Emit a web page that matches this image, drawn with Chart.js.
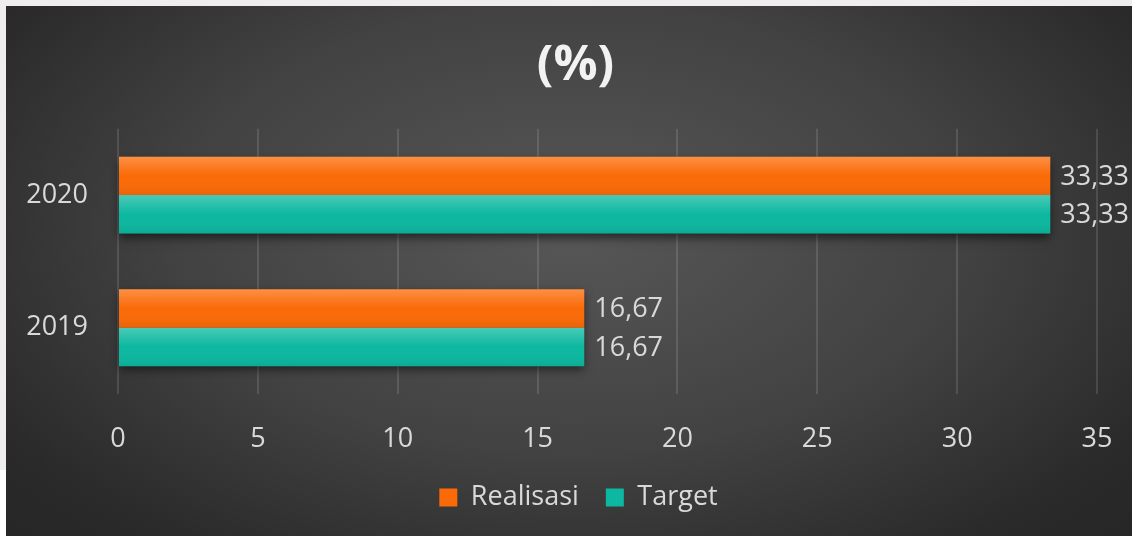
<!DOCTYPE html>
<html>
<head>
<meta charset="utf-8">
<script src="https://cdn.jsdelivr.net/npm/chart.js@4.4.1/dist/chart.umd.min.js"></script>
<style>
  html, body { margin: 0; padding: 0; }
  body {
    width: 1132px; height: 536px; overflow: hidden;
    background: linear-gradient(to bottom, #efeded 0, #efeded 470px, #ffffff 470px);
    position: relative;
  }
  #wrap {
    position: absolute; left: 6px; top: 6px; width: 1126px; height: 530px;
    background: radial-gradient(ellipse 70% 85% at 50% 42%, #575757 0%, #424242 50%, #2a2a2a 85%, #262626 100%);
  }
</style>
</head>
<body>
<div id="wrap"><canvas id="chart"></canvas></div>
<script>
const categories = ['2020', '2019'];
const realisasi = [33.33, 16.67];
const target = [33.33, 16.67];
const xTicks = [0, 5, 10, 15, 20, 25, 30, 35];

const FONT = '"Open Sans", "DejaVu Sans", sans-serif';
const TEXT = '#d9d9d9';

// soft shadow under each bar, drawn before the bars themselves
const barShadow = {
  id: 'barShadow',
  beforeDatasetsDraw(chart) {
    const ctx = chart.ctx;
    ctx.save();
    ctx.shadowColor = 'rgba(0,0,0,0.55)';
    ctx.shadowBlur = 9;
    ctx.shadowOffsetY = 4;
    ctx.fillStyle = '#333';
    chart.data.datasets.forEach((ds, i) => {
      chart.getDatasetMeta(i).data.forEach(bar => {
        const p = bar.getProps(['x', 'y', 'base', 'height'], true);
        ctx.fillRect(p.base, p.y - p.height / 2, p.x - p.base, p.height);
      });
    });
    ctx.restore();
  },
  afterDatasetsDraw(chart) {
    // gloss: lighter top, slightly darker bottom
    const ctx = chart.ctx;
    ctx.save();
    chart.data.datasets.forEach((ds, i) => {
      chart.getDatasetMeta(i).data.forEach(bar => {
        const p = bar.getProps(['x', 'y', 'base', 'height'], true);
        const top = p.y - p.height / 2;
        const g = ctx.createLinearGradient(0, top, 0, top + p.height);
        g.addColorStop(0, 'rgba(255,255,255,0.25)');
        g.addColorStop(0.5, 'rgba(255,255,255,0)');
        g.addColorStop(1, 'rgba(0,0,0,0.07)');
        ctx.fillStyle = g;
        ctx.fillRect(p.base, top, p.x - p.base, p.height);
      });
    });
    ctx.restore();
  }
};

const valueLabels = {
  id: 'valueLabels',
  afterDatasetsDraw(chart) {
    const ctx = chart.ctx;
    ctx.save();
    ctx.font = '27px ' + FONT;
    ctx.fillStyle = TEXT;
    ctx.textAlign = 'left';
    ctx.textBaseline = 'middle';
    chart.data.datasets.forEach((ds, i) => {
      chart.getDatasetMeta(i).data.forEach((bar, j) => {
        const p = bar.getProps(['x', 'y'], true);
        ctx.fillText(ds.data[j].toFixed(2).replace('.', ','), p.x + 10, p.y + 1);
      });
    });
    ctx.restore();
  }
};

// title and legend sit a bit right of the canvas centre in the original
const nudgeBoxes = {
  id: 'nudgeBoxes',
  afterLayout(chart) {
    const t = chart.titleBlock;
    if (t) { t.left += 24; t.right += 24; }
    const l = chart.legend;
    if (l) { l.left += 27; l.right += 27; }
  }
};

new Chart(document.getElementById('chart'), {
  type: 'bar',
  data: {
    labels: categories,
    datasets: [
      { label: 'Realisasi', data: realisasi, backgroundColor: '#fb6a07', borderWidth: 0 },
      { label: 'Target', data: target, backgroundColor: '#0cb8a0', borderWidth: 0 }
    ]
  },
  options: {
    indexAxis: 'y',
    responsive: true,
    maintainAspectRatio: false,
    animation: false,
    categoryPercentage: 0.58,
    barPercentage: 1,
    layout: { padding: { left: 0, right: 35, top: 0, bottom: 15 } },
    scales: {
      x: {
        min: 0,
        max: 35,
        afterBuildTicks(scale) { scale.ticks = xTicks.map(v => ({ value: v })); },
        grid: {
          color: 'rgba(255,255,255,0.12)', lineWidth: 2,
          drawTicks: true, tickLength: 26, tickColor: 'rgba(0,0,0,0)'
        },
        border: { display: false },
        ticks: { color: TEXT, font: { family: FONT, size: 27 }, padding: 3 },
        afterFit(scale) { scale.height = 63; }
      },
      y: {
        grid: { display: false, drawTicks: false },
        border: { display: false },
        ticks: { color: TEXT, font: { family: FONT, size: 27 }, padding: 30 },
        afterFit(scale) { scale.width = 112; }
      }
    },
    plugins: {
      title: {
        display: true,
        text: '(%)',
        color: '#f2f2f2',
        font: { family: FONT, size: 49, weight: 'bold' },
        padding: { top: 31, bottom: 33 }
      },
      legend: {
        position: 'bottom',
        labels: {
          color: TEXT,
          font: { family: FONT, size: 27 },
          boxWidth: 18,
          boxHeight: 18,
          padding: 27
        }
      },
      tooltip: { enabled: false }
    }
  },
  plugins: [barShadow, valueLabels, nudgeBoxes]
});
</script>
</body>
</html>
